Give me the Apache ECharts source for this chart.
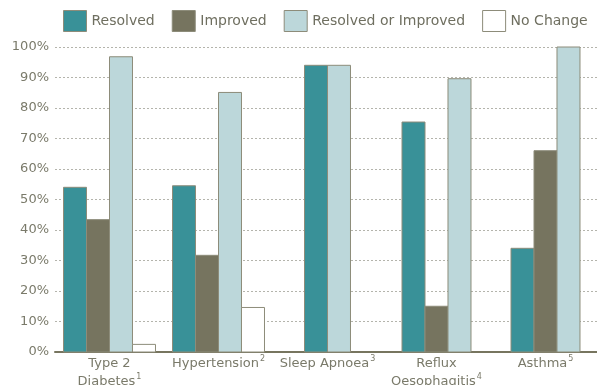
<!DOCTYPE html>
<html>
<head>
<meta charset="utf-8">
<script src="https://cdn.jsdelivr.net/npm/echarts@6/dist/echarts.min.js"></script>
<style>
  html, body { margin: 0; padding: 0; background: #fff; }
  #chart { width: 597px; height: 385px; }
</style>
</head>
<body>
<div id="chart"></div>
<script>
// Outcomes per condition (percent of patients)
const categories = ['Type 2\nDiabetes', 'Hypertension', 'Sleep Apnoea', 'Reflux\nOesophagitis', 'Asthma'];
const footnotes = ['1', '2', '3', '4', '5'];

const resolved = [54.0, 54.5, 94, 75.4, 34];
const improved = [43.4, 31.7, null, 15, 66];
const resolvedOrImproved = [96.8, 85.1, 94, 89.6, 100];
const noChange = [2.5, 14.6, null, null, null];

const seriesNames = ['Resolved', 'Improved', 'Resolved or Improved', 'No Change'];
const seriesColors = ['#399198', '#76745f', '#bcd7da', '#ffffff'];
const seriesValues = [resolved, improved, resolvedOrImproved, noChange];

const yTicks = { min: 0, max: 100, interval: 10 };

const textColor = '#7a7a6a';
const borderColor = '#8d8c7a';

// Bars present in each category are packed side by side and centred on the category
function renderBar(seriesIdx) {
  return function (params, api) {
    const cat = api.value(0);
    const val = api.value(1);
    const present = [];
    seriesValues.forEach((arr, s) => { if (arr[cat] != null) present.push(s); });
    const k = present.indexOf(seriesIdx);
    const n = present.length;
    const band = api.size([1, 0])[0];
    const w = band * 0.211;
    const top = api.coord([cat, val]);
    const base = api.coord([cat, 0]);
    const x0 = top[0] - n * w / 2 + k * w;
    return {
      type: 'rect',
      shape: { x: x0, y: top[1], width: w, height: base[1] - top[1] },
      style: {
        fill: seriesColors[seriesIdx],
        stroke: borderColor,
        lineWidth: 1
      }
    };
  };
}

const series = seriesNames.map((name, s) => ({
  name: name,
  type: 'custom',
  renderItem: renderBar(s),
  encode: { x: 0, y: 1 },
  itemStyle: { color: seriesColors[s], borderColor: borderColor, borderWidth: 1 },
  data: seriesValues[s]
    .map((v, i) => (v == null ? null : [i, v]))
    .filter(d => d !== null),
  z: 3
}));

const chart = echarts.init(document.getElementById('chart'), null, { renderer: 'canvas' });
chart.setOption({
  animation: false,
  textStyle: { fontFamily: 'DejaVu Sans' },
  legend: {
    left: 58,
    top: 5,
    padding: 5,
    itemWidth: 23,
    itemHeight: 21,
    itemGap: 17,
    icon: 'rect',
    textStyle: { fontSize: 14, color: '#6f6f60', fontFamily: 'DejaVu Sans' },
    data: seriesNames.map((name, s) => ({
      name: name,
      itemStyle: { color: seriesColors[s], borderColor: borderColor, borderWidth: 1 }
    }))
  },
  grid: { left: 55, right: -3, top: 47, bottom: 33, outerBoundsMode: 'none', containLabel: false },
  xAxis: {
    type: 'category',
    data: categories,
    axisLine: { show: true, lineStyle: { color: '#77755f', width: 2 } },
    axisTick: { show: false },
    axisLabel: {
      interval: 0,
      margin: 3,
      color: textColor,
      fontSize: 13,
      lineHeight: 18,
      fontFamily: 'DejaVu Sans',
      formatter: (v, i) => v + '{sup|' + footnotes[i] + '}',
      rich: {
        sup: { fontSize: 8, lineHeight: 18, verticalAlign: 'top', color: textColor, padding: [0, 0, 0, 1] }
      }
    }
  },
  yAxis: {
    type: 'value',
    min: yTicks.min,
    max: yTicks.max,
    interval: yTicks.interval,
    axisLine: { show: false },
    axisTick: { show: false },
    axisLabel: {
      formatter: '{value}%',
      color: textColor,
      fontSize: 13,
      margin: 6,
      fontFamily: 'DejaVu Sans'
    },
    splitLine: {
      show: true,
      lineStyle: { color: '#b4b4ac', type: [2, 2], width: 1 }
    }
  },
  series: series
});
</script>
</body>
</html>
